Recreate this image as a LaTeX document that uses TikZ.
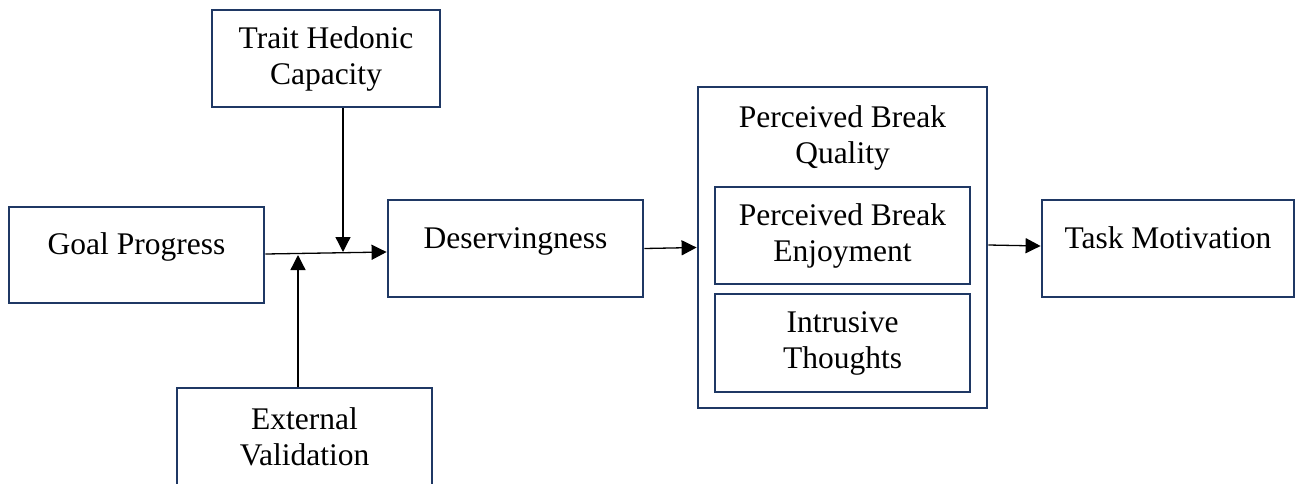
\documentclass[tikz,border=0pt]{standalone}
\usepackage{fontspec}
\setmainfont{Liberation Serif}
\usetikzlibrary{arrows.meta,calc}
\definecolor{navy}{RGB}{31,56,100}
\begin{document}
\begin{tikzpicture}[x=1pt,y=-1pt,
  box/.style={draw=navy,line width=2.8pt,fill=white,align=center,inner sep=0pt,
    font=\fontsize{31.5}{36}\selectfont},
  one/.style={text height=22pt,text depth=23pt},
  arr/.style={draw=black,line width=1.3pt,-{Triangle[length=15pt,width=15pt]}},
  ttl/.style={align=center,inner sep=0pt,font=\fontsize{31.5}{36}\selectfont}]
\useasboundingbox (0,0) rectangle (1296,483);
\node[box,minimum width=228pt,minimum height=97pt] (thc) at (326,58.5) {Trait Hedonic\\Capacity};
\node[box,one,minimum width=255pt,minimum height=96pt] (gp) at (136.5,255) {Goal Progress};
\node[box,one,minimum width=255pt,minimum height=97pt] (des) at (515.5,248.5) {Deservingness};
\node[box,minimum width=255pt,minimum height=97pt] (ev) at (304.5,436.5) {External\\Validation};
\node[box,minimum width=289pt,minimum height=321pt] (pbq) at (842.5,247.5) {};
\node[ttl] (pbqt) at (842.5,137.5) {Perceived Break\\Quality};
\node[box,minimum width=255pt,minimum height=97pt] (pbe) at (842.5,235.5) {Perceived Break\\Enjoyment};
\node[box,minimum width=255pt,minimum height=98pt] (it) at (842.5,343) {Intrusive\\Thoughts};
\node[box,one,minimum width=252pt,minimum height=97pt] (tm) at (1168,248.5) {Task Motivation};
\coordinate (j1) at (343,252);
\coordinate (j2) at (298,255);
\draw[arr] ([yshift=1pt]gp.east) -- ([yshift=-3.5pt]des.west);
\draw[arr] (thc.south -| j1) -- (j1);
\draw[arr] (ev.north -| j2) -- (j2);
\draw[arr] (des.east) -- (pbq.west);
\draw[arr] ([yshift=2.5pt]pbq.east) -- ([yshift=2.5pt]tm.west);
\end{tikzpicture}
\end{document}
